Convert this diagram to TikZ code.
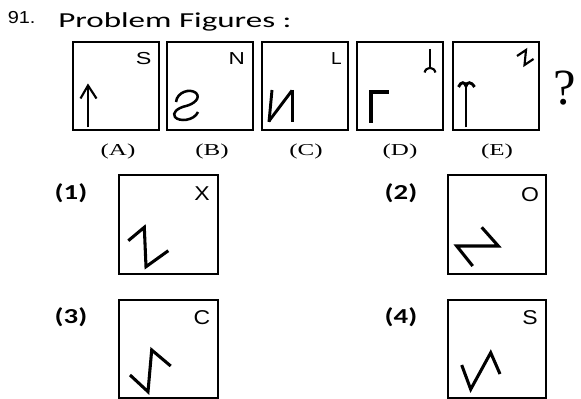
\documentclass[tikz,border=0pt]{standalone}
\usepackage{fontspec}
\setmainfont{Liberation Serif}
\setsansfont{Liberation Sans}
\newfontfamily\calfont{Carlito}
\usetikzlibrary{positioning}
\newcommand{\hstretch}[2]{\scalebox{#1}[1]{#2}}

\begin{document}
\begin{tikzpicture}[x=0.75pt, y=-0.75pt,
    probbox/.style={rectangle, draw=black, line width=1.5pt, minimum width=64.5pt, minimum height=66pt, inner sep=0pt},
    ansbox/.style={rectangle, draw=black, line width=1.6pt, minimum width=74pt, minimum height=74pt, inner sep=0pt},
    corner/.style={font=\sffamily\fontsize{13}{13}\selectfont, inner sep=0pt},
    anscorner/.style={font=\sffamily\fontsize{15}{15}\selectfont, inner sep=0pt},
    figlabel/.style={font=\fontsize{12.5}{12.5}\selectfont, anchor=base, inner sep=0pt},
    optlabel/.style={font=\calfont\bfseries\fontsize{16}{16}\selectfont, inner sep=0pt},
    sym/.style={line width=2.2pt, line join=miter},
    thinsym/.style={line width=1.6pt, line join=miter},
    anssym/.style={line width=2.3pt, line join=miter}
]
\useasboundingbox (0,0) rectangle (581,399);

% title
\node[anchor=base west, inner sep=0pt, font=\sffamily\fontsize{13}{13}\selectfont] (num) at (7.5,24) {\hstretch{1.15}{91.}};
\node[anchor=base west, inner sep=0pt, font=\calfont\fontsize{16}{16}\selectfont] (title) at (58,27.5) {\hstretch{1.55}{Problem Figures :}};

% problem figures
\node[probbox] (boxA) at (116,86) {};
\node[probbox] (boxB) at (210,86) {};
\node[probbox] (boxC) at (305,86) {};
\node[probbox] (boxD) at (399.5,86) {};
\node[probbox] (boxE) at (495.5,86) {};

\node[figlabel] (labA) at (118,155.5) {\hstretch{1.5}{(A)}};
\node[figlabel] (labB) at (212,155.5) {\hstretch{1.5}{(B)}};
\node[figlabel] (labC) at (306,155.5) {\hstretch{1.5}{(C)}};
\node[figlabel] (labD) at (400,155.5) {\hstretch{1.5}{(D)}};
\node[figlabel] (labE) at (497,155.5) {\hstretch{1.5}{(E)}};

\node[anchor=base, inner sep=0pt, font=\fontsize{38}{38}\selectfont] (qmark) at (565,105) {?};

\node[corner] (cA) at (143.7,58.5) {\hstretch{1.35}{S}};
\node[corner] (cB) at (236.7,58.5) {\hstretch{1.3}{N}};
\node[corner] (cC) at (336.5,58.5) {\hstretch{1.1}{L}};

% A
\draw[thinsym] (88,127.5) -- (88,86);
\draw[thinsym] (80.5,98.5) -- (88,85.5) -- (96.5,98.5);
% B
\draw[sym, line width=1.9pt] (176,102) .. controls (177,92) and (190,88) .. (196,93)
    .. controls (201,98) and (194,104) .. (186,106)
    .. controls (177,108) and (172,113) .. (175,117)
    .. controls (179,122) and (194,121) .. (198,112);
% C
\draw[sym] (269,122) -- (272,90);
\draw[sym] (269,121) -- (292,90.5);
\draw[sym] (292.5,90) -- (292.5,122);
% D
\draw[sym, line width=2.5pt] (371,123) -- (371,92) -- (388.5,92);
\draw[thinsym] (430,49) -- (430,68);
\draw[thinsym] (424.5,72.5) .. controls (426,69) .. (430,68) .. controls (434,69) .. (435.5,72.5);
% E
\draw[thinsym] (517,56) -- (526,50) -- (524.5,65) -- (533.5,59);
\draw[sym] (466,127.5) -- (466,86);
\draw[sym] (458.5,87) .. controls (461,81) and (465,82) .. (466,86)
    .. controls (467,82) and (471,81) .. (474.5,87);

% answer figures
\node[optlabel] (opt1) at (71,193) {\hstretch{1.35}{(1)}};
\node[optlabel] (opt2) at (401,193) {\hstretch{1.35}{(2)}};
\node[optlabel] (opt3) at (71,317) {\hstretch{1.35}{(3)}};
\node[optlabel] (opt4) at (401,317) {\hstretch{1.35}{(4)}};

\node[ansbox] (ans1) at (168.5,224.5) {};
\node[ansbox] (ans2) at (497,224.5) {};
\node[ansbox] (ans3) at (168.5,349) {};
\node[ansbox] (ans4) at (497,349) {};

\node[anscorner] (c1) at (202,194) {\hstretch{1.15}{X}};
\node[anscorner] (c2) at (530,195) {\hstretch{1.15}{O}};
\node[anscorner] (c3) at (202,318) {\hstretch{1.15}{C}};
\node[anscorner] (c4) at (530,318) {\hstretch{1.15}{S}};

\draw[anssym] (128.3,240.7) -- (144.3,227.3) -- (146,266.7) -- (168.3,250.7);
\draw[anssym] (472.7,266) -- (456.7,246) -- (498.3,246) -- (481.7,227.3);
\draw[anssym] (130,375) -- (148,391.7) -- (151.7,350) -- (170.7,366);
\draw[anssym] (461.7,365) -- (470.7,389.3) -- (490.7,352.7) -- (500,374);

\end{tikzpicture}
\end{document}
